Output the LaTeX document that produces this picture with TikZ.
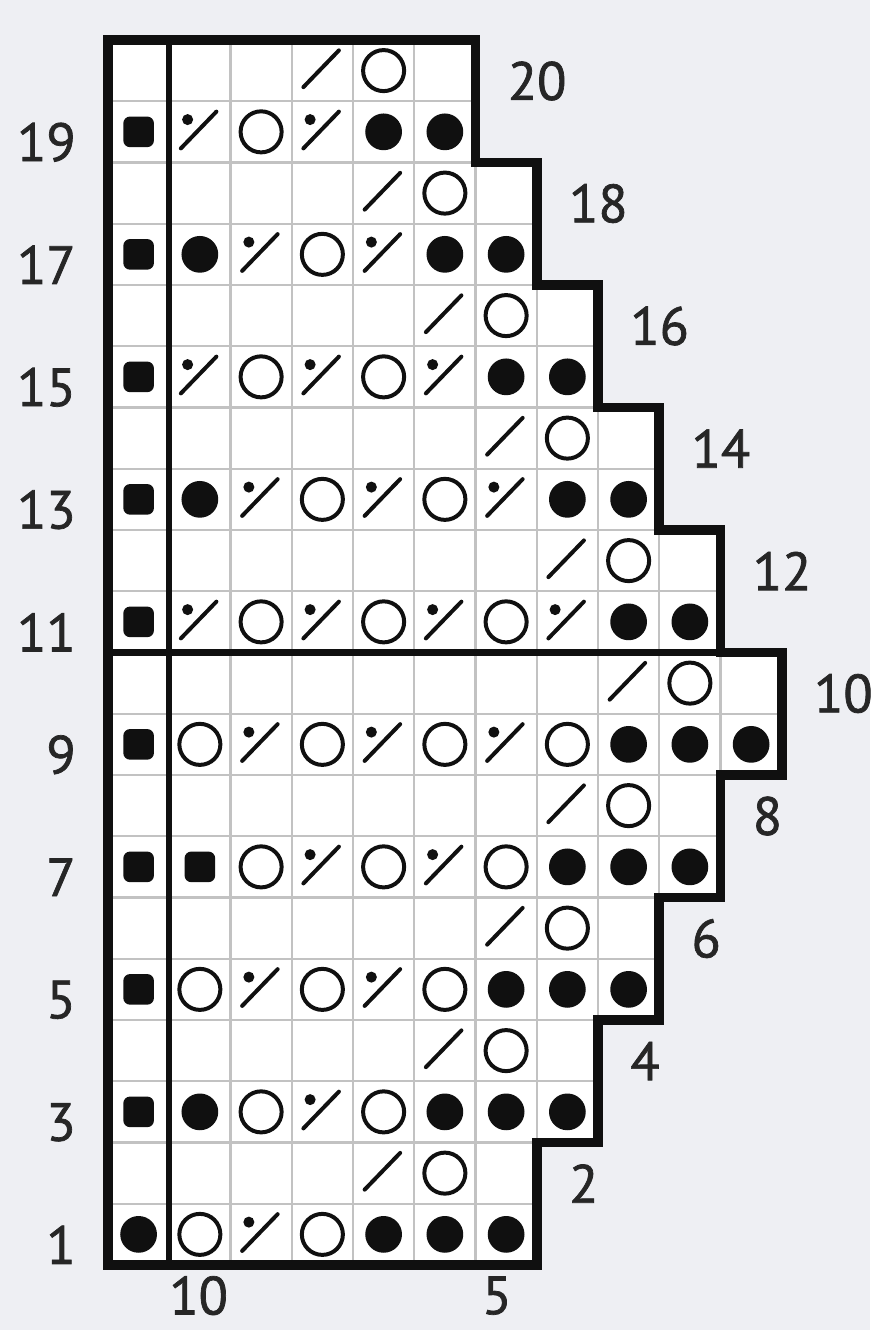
\documentclass[tikz,border=0pt]{standalone}
\usepackage{fontspec}
\newfontfamily\cifras{PT Sans}[FakeBold=1.3]
\usepackage{xcolor}
\usepackage{tikz}
\definecolor{fondo}{HTML}{EEEFF3}
\definecolor{rejilla}{HTML}{C2C2C2}
\definecolor{tinta}{HTML}{101010}
\definecolor{cifra}{HTML}{262626}

\tikzset{
  cuadro/.pic={\fill[tinta, rounded corners=1.1mm] (-0.25,-0.25) rectangle (0.25,0.25);},
  bola/.pic={\fill[tinta] (0,0) circle (0.3);},
  aro/.pic={\draw[tinta, line width=1.85pt] (0,0) circle (0.335);},
  barra/.pic={\draw[tinta, line width=1.85pt, line cap=round] (-0.31,-0.27) -- (0.27,0.33);},
  barrap/.pic={\draw[tinta, line width=1.85pt, line cap=round] (-0.31,-0.27) -- (0.27,0.33);
    \fill[tinta] (-0.2,0.2) circle (0.09);}
}

\begin{document}
\begin{tikzpicture}[
  fina/.style={draw=rejilla, line width=1.1pt},
  media/.style={draw=tinta, line width=2.8pt},
  borde/.style={draw=tinta, line width=4.5pt, line join=miter},
  num/.style={font=\cifras\fontsize{25}{25}\selectfont, text=cifra, inner sep=0pt}]
  \fill[fondo] (-1.763,-1.061) rectangle (12.441,20.653);
  \useasboundingbox (-1.763,-1.061) rectangle (12.441,20.653);
  % two rows per step, width of each step
  \foreach \w [count=\p, evaluate=\p as \npar using int(2*\p),
               evaluate=\p as \nimpar using int(2*\p-1)] in {7,8,9,10,11,10,9,8,7,6} {
    \fill[white] (0,\npar-2) rectangle (\w,\npar);
    \draw[fina] (0,\npar-2) grid (\w,\npar);
    \node[num, anchor=west] (fila\npar) at (\w+0.52,\npar-0.67) {\npar};
    \node[num, anchor=east] (fila\nimpar) at (-0.52,\nimpar-0.67) {\nimpar};
  }
  \draw[media] (1,0) -- (1,20);
  \draw[media] (0,10) -- (10,10);
  \draw[borde] (0,0) -- (0,20) -- (6,20) -- (6,18) -- (7,18) -- (7,16) -- (8,16)
    -- (8,14) -- (9,14) -- (9,12) -- (10,12) -- (10,10) -- (11,10) -- (11,8)
    -- (10,8) -- (10,6) -- (9,6) -- (9,4) -- (8,4) -- (8,2) -- (7,2) -- (7,0) -- cycle;
  % right side rows
  \foreach \r/\lista in {
      1/{bola,aro,barrap,aro,bola,bola,bola},
      3/{cuadro,bola,aro,barrap,aro,bola,bola,bola},
      5/{cuadro,aro,barrap,aro,barrap,aro,bola,bola,bola},
      7/{cuadro,cuadro,aro,barrap,aro,barrap,aro,bola,bola,bola},
      9/{cuadro,aro,barrap,aro,barrap,aro,barrap,aro,bola,bola,bola},
      11/{cuadro,barrap,aro,barrap,aro,barrap,aro,barrap,bola,bola},
      13/{cuadro,bola,barrap,aro,barrap,aro,barrap,bola,bola},
      15/{cuadro,barrap,aro,barrap,aro,barrap,bola,bola},
      17/{cuadro,bola,barrap,aro,barrap,bola,bola},
      19/{cuadro,barrap,aro,barrap,bola,bola}}
    \foreach \s [count=\c] in \lista
      \pic at (\c-0.5,\r-0.5) {\s};
  % wrong side rows
  \foreach \r/\c in {2/5,4/6,6/7,8/8,10/9,12/8,14/7,16/6,18/5,20/4} {
    \pic at (\c-0.5,\r-0.5) {barra};
    \pic at (\c+0.5,\r-0.5) {aro};
  }
  \node[num] (punto10) at (1.48,-0.5) {10};
  \node[num] (punto5) at (6.35,-0.5) {5};
\end{tikzpicture}
\end{document}
